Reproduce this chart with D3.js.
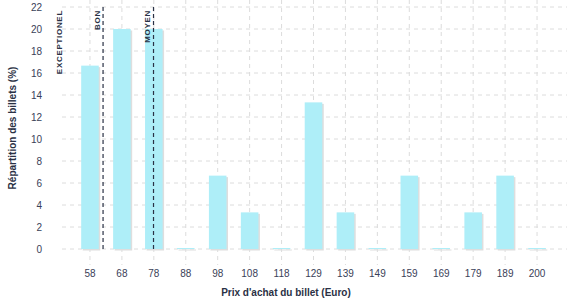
<!DOCTYPE html>
<html>
<head>
<meta charset="utf-8">
<script src="https://cdn.jsdelivr.net/npm/d3@7"></script>
<style>
  body { margin: 0; background: #fff; }
  text { font-family: "Liberation Sans", Arial, sans-serif; }
</style>
</head>
<body>
<script>
// prix des billets et repartition (%)
var prices = ['58', '68', '78', '88', '98', '108', '118', '129', '139', '149', '159', '169', '179', '189', '200'];
var shares = [16.67, 20, 20, 0, 6.67, 3.33, 0, 13.33, 3.33, 0, 6.67, 0, 3.33, 6.67, 0];
var yTicks = [0, 2, 4, 6, 8, 10, 12, 14, 16, 18, 20, 22];

var markerLabels = ['EXCEPTIONEL', 'BON', 'MOYEN'];
var markerPrices = [50.3, 62.1, 77.9];
var markerLines = [false, true, true];

var W = 577, H = 300;
var svg = d3.select('body').append('svg')
  .attr('width', W).attr('height', H);

var x = d3.scaleBand().domain(prices).range([74, 553])
  .paddingInner(0.45).paddingOuter(0.225);
var y = d3.scaleLinear().domain([0, 22]).range([249, 7]);

var xc = function (p) { return x(p) + x.bandwidth() / 2; };
// prix -> pixel, lineaire entre les deux premieres categories
var px = function (v) { return xc('58') + (v - 58) / 10 * x.step(); };

// grille
var grid = svg.append('g').attr('stroke', '#dcdcdc').attr('stroke-dasharray', '4,4');
grid.selectAll('line.h').data(yTicks).enter().append('line')
  .attr('x1', 62).attr('x2', 567)
  .attr('y1', function (d) { return y(d); }).attr('y2', function (d) { return y(d); });
grid.selectAll('line.v').data(prices).enter().append('line')
  .attr('x1', xc).attr('x2', xc)
  .attr('y1', 0).attr('y2', 265);

// barres + ombre
var bars = svg.append('g');
bars.selectAll('rect.shadow').data(shares).enter().append('rect')
  .attr('fill', '#dedede')
  .attr('x', function (d, i) { return x(prices[i]) + 1.5; })
  .attr('width', x.bandwidth())
  .attr('y', function (d) { return Math.min(y(d), y(0) - 1) + 1.5; })
  .attr('height', function (d) { return Math.max(y(0) - y(d), 1); });
bars.selectAll('rect.bar').data(shares).enter().append('rect')
  .attr('fill', '#aeeef8')
  .attr('x', function (d, i) { return x(prices[i]); })
  .attr('width', x.bandwidth())
  .attr('y', function (d) { return Math.min(y(d), y(0) - 1); })
  .attr('height', function (d) { return Math.max(y(0) - y(d), 1); });

// axes
var yAxis = d3.axisLeft(y).tickValues(yTicks).tickSize(0).tickPadding(0);
var gy = svg.append('g').attr('transform', 'translate(42,0)').call(yAxis);
gy.select('.domain').remove();
gy.selectAll('text').attr('fill', '#3a4158').attr('font-size', 10);

var xAxis = d3.axisBottom(x).tickSize(0).tickPadding(0);
var gx = svg.append('g').attr('transform', 'translate(0,270)').call(xAxis);
gx.select('.domain').remove();
gx.selectAll('text').attr('fill', '#3a4158').attr('font-size', 10);

// seuils
var mk = svg.append('g');
mk.selectAll('line').data(markerPrices.filter(function (d, i) { return markerLines[i]; }))
  .enter().append('line')
  .attr('x1', px).attr('x2', px)
  .attr('y1', 7).attr('y2', 249)
  .attr('stroke', '#2a3145').attr('stroke-width', 1.2).attr('stroke-dasharray', '4,3');
mk.selectAll('text').data(markerLabels).enter().append('text')
  .attr('transform', function (d, i) { return 'translate(' + (px(markerPrices[i]) - 3.5) + ',10) rotate(-90)'; })
  .attr('text-anchor', 'end')
  .attr('font-size', 8).attr('font-weight', 'bold')
  .attr('letter-spacing', 0.7)
  .attr('fill', '#2a3145')
  .text(function (d) { return d; });

// titres
svg.append('text')
  .attr('transform', 'translate(16,128) rotate(-90)')
  .attr('text-anchor', 'middle')
  .attr('font-size', 10).attr('font-weight', 'bold').attr('fill', '#2a3145')
  .text('Répartition des billets (%)');
svg.append('text')
  .attr('x', 286).attr('y', 296)
  .attr('text-anchor', 'middle')
  .attr('font-size', 10).attr('font-weight', 'bold').attr('fill', '#2a3145')
  .text("Prix d'achat du billet (Euro)");
</script>
</body>
</html>
